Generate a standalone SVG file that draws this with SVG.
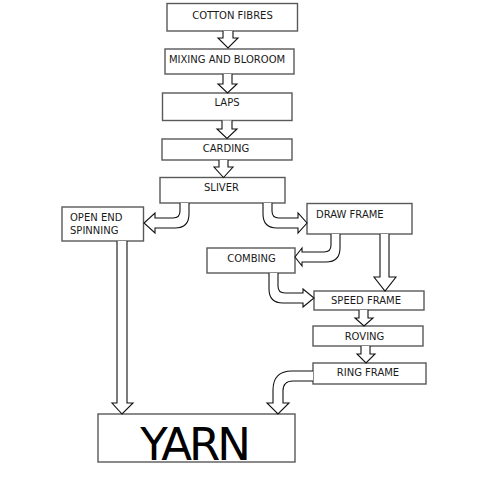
<svg xmlns="http://www.w3.org/2000/svg" width="496" height="477" viewBox="0 0 496 477">
<style>
.box{fill:#fff;stroke:#595959;stroke-width:1.4}
.arr{fill:#fff;stroke:#111;stroke-width:1.1;stroke-linejoin:miter}
.t{font-family:"DejaVu Sans",Verdana,sans-serif;font-size:10px;fill:#1a1a1a}
.c{text-anchor:middle}
.big{font-family:"DejaVu Sans",Verdana,sans-serif;font-size:45px;fill:#000;text-anchor:middle;letter-spacing:-3px}
</style>
<rect width="496" height="477" fill="#fff"/>
<g id="n-cotton"><rect class="box" x="167" y="3.5" width="130.5" height="27.5"/><text class="t c" x="232.5" y="19">COTTON FIBRES</text></g>
<g id="n-mixing"><rect class="box" x="165" y="49" width="129" height="25"/><text class="t c" x="227" y="63">MIXING AND BLOROOM</text></g>
<g id="n-laps"><rect class="box" x="162.5" y="93" width="129.5" height="27.5"/><text class="t c" x="227" y="106">LAPS</text></g>
<g id="n-carding"><rect class="box" x="162" y="139" width="130" height="21"/><text class="t c" x="226" y="151.5">CARDING</text></g>
<g id="n-sliver"><rect class="box" x="160" y="177.5" width="125" height="25.5"/><text class="t c" x="221.5" y="191">SLIVER</text></g>
<g id="n-openend"><rect class="box" x="62" y="207" width="81.5" height="34"/><text class="t" x="70" y="220.5">OPEN END</text><text class="t" x="70" y="233.5">SPINNING</text></g>
<g id="n-draw"><rect class="box" x="307" y="203.5" width="105" height="30.5"/><text class="t" x="316" y="217.5">DRAW FRAME</text></g>
<g id="n-combing"><rect class="box" x="207" y="248" width="88" height="25"/><text class="t c" x="251.5" y="262">COMBING</text></g>
<g id="n-speed"><rect class="box" x="314" y="291" width="110" height="19"/><text class="t c" x="366" y="304">SPEED FRAME</text></g>
<g id="n-roving"><rect class="box" x="313" y="326" width="110" height="20"/><text class="t c" x="364.5" y="340">ROVING</text></g>
<g id="n-ring"><rect class="box" x="313" y="363" width="113" height="21"/><text class="t c" x="368" y="376">RING FRAME</text></g>
<g id="n-yarn"><rect class="box" x="98" y="414" width="197" height="48"/><text class="big" x="194" y="460">YARN</text></g>
<g id="connectors">
<path class="arr" d="M223,31 V38 H218 L228,48 L238,38 H233 V31"/>
<path class="arr" d="M223,74 V84 H218 L227.5,93 L237,84 H232 V74"/>
<path class="arr" d="M222,120.5 V129 H217 L227,138.5 L237,129 H232 V120.5"/>
<path class="arr" d="M219,160 V167 H214 L223.5,177.5 L233,167 H228 V160"/>
<path class="arr" d="M180,203 V211 Q180,218 173,218 H155 V213 L144,223 L155,233 V228 H175 Q189,228 189,214 V203"/>
<path class="arr" d="M272,203 V211 Q272,218 279,218 H298 V213 L307,223 L298,233 V228 H277 Q263,228 263,214 V203"/>
<path class="arr" d="M331,234 V245 Q331,252 324,252 H302 V248 L295,257 L302,266 V262 H326 Q340,262 340,248 V234"/>
<path class="arr" d="M380,234 V277 H374 L385,291 L396,277 H389 V234"/>
<path class="arr" d="M278,273 V286 Q278,293 285,293 H303 V289 L314,298 L303,307 V303 H283 Q269,303 269,289 V273"/>
<path class="arr" d="M359,310 V318 H355 L364,326 L373,318 H368 V310"/>
<path class="arr" d="M361,346 V354 H357 L366,363 L375,354 H370 V346"/>
<path class="arr" d="M313,371 H292 Q273,371 273,390 V403 H267 L278,414 L289,403 H283 V391 Q283,381 293,381 H313"/>
<path class="arr" d="M117,241 V403 H112 L122,414 L133,403 H127 V241"/>
</g>
</svg>
